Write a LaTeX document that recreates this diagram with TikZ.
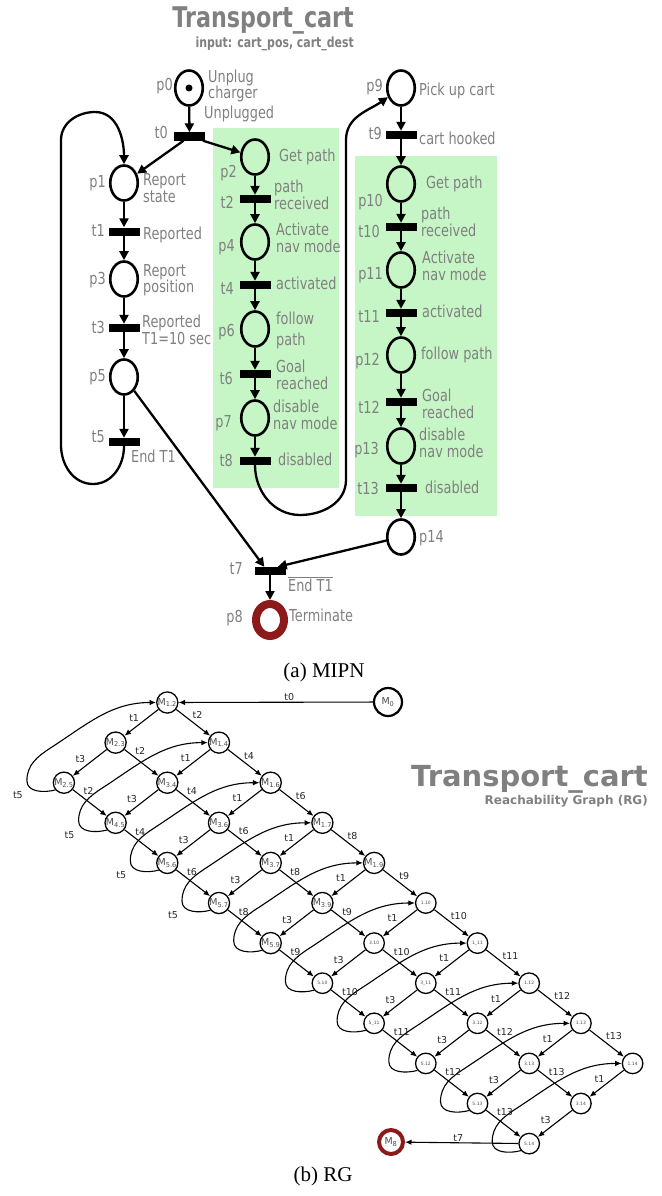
\documentclass[tikz,border=0pt]{standalone}
\usepackage{fontspec}
\usepackage{tikz}
\usetikzlibrary{arrows.meta,positioning,shapes.geometric,calc}
\newfontfamily\pnfont[FakeStretch=0.78]{DejaVu Sans}
\newfontfamily\rgfont{DejaVu Sans}
\newfontfamily\capfont{Liberation Serif}
\definecolor{pnGray}{HTML}{808080}
\definecolor{pnGreen}{HTML}{C6F5C6}
\definecolor{pnRed}{HTML}{8C1A1A}
\newcommand{\rgm}[1]{M\textsubscript{#1}}
\newcommand{\rgn}[1]{{\fontsize{4.5}{5}\selectfont #1}}
\tikzset{
  place/.style={draw, ellipse, line width=2.6pt, minimum width=27.5pt,
                minimum height=35pt, inner sep=0pt},
  trans/.style={fill=black, minimum width=31pt, minimum height=8pt, inner sep=0pt},
  parc/.style={-{Triangle[length=9pt,width=9pt]}, line width=2.3pt},
  lbl/.style={font=\pnfont\fontsize{16.5}{16.5}\selectfont, text=pnGray,
              inner sep=0pt, align=left},
  ttl/.style={font=\pnfont\bfseries\fontsize{28.5}{28.5}\selectfont, text=pnGray, inner sep=0pt},
  rgnode/.style={circle, draw, line width=1.3pt, minimum size=20.5pt, inner sep=0pt,
                 font=\rgfont\fontsize{9.5}{10}\selectfont, text=black!70},
  rgarr/.style={-{Latex[length=6.5pt,width=5.5pt]}, line width=1.1pt},
  rglbl/.style={font=\rgfont\fontsize{9.5}{10}\selectfont, inner sep=1.2pt, text=black!85},
  captxt/.style={font=\capfont\fontsize{21}{21}\selectfont, inner sep=0pt},
}
\begin{document}
\begin{tikzpicture}[x=1pt, y=1pt]
  \useasboundingbox (0,0) rectangle (661,-1196);
  % MIPN
  \fill[pnGreen] (213,-128) rectangle (339,-488);
  \fill[pnGreen] (355,-156) rectangle (497,-516);
  \node[ttl, anchor=base east] (title) at (354,-28) {Transport\_cart};
  \node[ttl, font=\pnfont\bfseries\fontsize{14}{14}\selectfont, anchor=base east]
    (inputs) at (354,-47.5) {input: cart\_pos, cart\_dest};
  \foreach \n/\x/\y in {p0/189/88, p1/124/183, p3/124/279, p5/124/377,
      p2/255/157, p4/255/242, p6/255/329, p7/255/418, p9/401/88, p10/401/184,
      p11/401/270, p12/401/355, p13/401/446, p14/401/537}
    \node[place] (\n) at (\x,-\y) {};
  \foreach \n/\x/\y in {t0/189.5/136.5, t1/124/231.5, t3/124/328, t5/124/442,
      t2/255/199, t4/255/285, t6/255/374, t8/255/461, t9/401/135, t10/401/227,
      t11/401/313, t12/401/402, t13/401/488, t7/270/571}
    \node[trans] (\n) at (\x,-\y) {};
  \node[place, draw=pnRed, line width=8pt, minimum width=28pt, minimum height=32pt]
    (p8) at (270,-620) {};
  \node[circle, fill, minimum size=7pt, inner sep=0pt] (tok) at (p0) {};
  \foreach \a/\b in {p0/t0, t0/p1, t0/p2, p1/t1, t1/p3, p3/t3, t3/p5, p5/t5,
      p2/t2, t2/p4, p4/t4, t4/p6, p6/t6, t6/p7, p7/t8, p9/t9, t9/p10, p10/t10,
      t10/p11, p11/t11, t11/p12, p12/t12, t12/p13, p13/t13, t13/p14, t7/p8}
    \draw[parc] (\a) -- (\b);
  \coordinate (c5b) at (93,-484);
  \coordinate (c5l) at (61,-445);
  \coordinate (c5t) at (61,-140);
  \coordinate (c5p) at (95,-112);
  \draw[parc] (t5.south) to[out=-90,in=0] (c5b) to[out=180,in=-90] (c5l) -- (c5t)
    to[out=90,in=180] (c5p) to[out=0,in=90] (p1.north);
  \coordinate (c8b) at (300,-515);
  \coordinate (c8r) at (346,-480);
  \coordinate (c8t) at (346,-140);
  \draw[parc] (t8.south) to[out=-90,in=180] (c8b) to[out=0,in=-90] (c8r) -- (c8t)
    to[out=90,in=215] (p9.215);
  \draw[parc] (p5) -- ([xshift=10pt]t7.north west);
  \draw[parc] (p14) -- ([xshift=-8pt]t7.north east);
  % names
  \foreach \n/\x/\y in {p0/173/86, t0/168/132, p1/106/183, t1/105/230, p3/106/280,
      t3/105/327, p5/106/377, t5/105/437, p2/237/173, t2/234/202, p4/235/247,
      t4/234/288, p6/235/332, t6/233/378, p7/232/423, t8/233/460, p9/383/87,
      t9/382/133, p10/383/202, t10/380/231, p11/383/275, t11/380/316,
      p12/380/361, t12/380/407, p13/379/450, t13/379/488, t7/243/568, p8/243/618}
    \node[lbl, anchor=east] (l\n) at (\x,-\y) {\n};
  % descriptions
  \node[lbl, anchor=west] (dp0) at (208,-86) {Unplug\\charger};
  \node[lbl, anchor=west] (dt0) at (204,-114) {Unplugged};
  \node[lbl, anchor=west] (dp1) at (143,-188) {Report\\state};
  \node[lbl, anchor=west] (dt1) at (143,-235) {Reported};
  \node[lbl, anchor=west] (dp3) at (143,-280) {Report\\position};
  \node[lbl, anchor=west] (dt3) at (142,-330) {Reported\\T1=10 sec};
  \node[lbl, anchor=west] (dt5) at (131,-456) {End T1};
  \node[lbl, anchor=west] (dp2) at (279,-157) {Get path};
  \node[lbl, anchor=west] (dt2) at (274,-195) {path\\received};
  \node[lbl, anchor=west] (dp4) at (276,-238) {Activate\\nav mode};
  \node[lbl, anchor=west] (dt4) at (276,-283) {activated};
  \node[lbl, anchor=west] (dp6) at (276,-330) {follow\\[4.5pt]path};
  \node[lbl, anchor=west] (dt6) at (276,-375) {Goal\\reached};
  \node[lbl, anchor=west] (dp7) at (273,-415) {disable\\nav mode};
  \node[lbl, anchor=west] (dt8) at (278,-459) {disabled};
  \node[lbl, anchor=west] (dp9) at (419,-91) {Pick up cart};
  \node[lbl, anchor=west] (dt9) at (419,-138) {cart hooked};
  \node[lbl, anchor=west] (dp10) at (426,-184) {Get path};
  \node[lbl, anchor=west] (dt10) at (421,-222) {path\\received};
  \node[lbl, anchor=west] (dp11) at (422,-266) {Activate\\nav mode};
  \node[lbl, anchor=west] (dt11) at (422,-311) {activated};
  \node[lbl, anchor=west] (dp12) at (421,-355) {follow path};
  \node[lbl, anchor=west] (dt12) at (422,-404) {Goal\\reached};
  \node[lbl, anchor=west] (dp13) at (419,-443) {disable\\nav mode};
  \node[lbl, anchor=west] (dt13) at (425,-487) {disabled};
  \node[lbl, anchor=west] (lp14) at (419,-538) {p14};
  \node[lbl, anchor=west] (dt7) at (288,-584) {$\overline{\mbox{End T1}}$};
  \node[lbl, anchor=west] (dp8) at (289,-615) {Terminate};
  \node[captxt, anchor=base] (capa) at (324,-677) {(a) MIPN};
  % RG
  \node[ttl, font=\rgfont\bfseries\fontsize{29}{29}\selectfont, anchor=base east]
    (rgtitle) at (648,-786) {Transport\_cart};
  \node[ttl, font=\rgfont\bfseries\fontsize{12}{12}\selectfont, anchor=base east]
    (rgsub) at (648,-804) {Reachability Graph (RG)};
  \begin{scope}[shift={(167.3,-702.5)}, x={(51.7pt,-40.1pt)}, y={(-51.7pt,-40.1pt)}]
    \foreach \u/\ra/\rb/\rc in {0/{\rgm{1.2}}/{\rgm{2.3}}/{\rgm{2.5}},
        1/{\rgm{1.4}}/{\rgm{3.4}}/{\rgm{4.5}}, 2/{\rgm{1.6}}/{\rgm{3.6}}/{\rgm{5.6}},
        3/{\rgm{1.7}}/{\rgm{3.7}}/{\rgm{5.7}}, 4/{\rgm{1.9}}/{\rgm{3.9}}/{\rgm{5.9}},
        5/{\rgn{1.10}}/{\rgn{3.10}}/{\rgn{5.10}}, 6/{\rgn{1\_11}}/{\rgn{3\_11}}/{\rgn{5\_11}},
        7/{\rgn{1.12}}/{\rgn{3.12}}/{\rgn{5.12}}, 8/{\rgn{1.13}}/{\rgn{3.13}}/{\rgn{5.13}},
        9/{\rgn{1.14}}/{\rgn{3.14}}/{\rgn{5.14}}}{
      \node[rgnode] (a\u-0) at (\u,0) {\ra};
      \node[rgnode] (a\u-1) at (\u,1) {\rb};
      \node[rgnode] (a\u-2) at (\u,2) {\rc};
    }
  \end{scope}
  \node[rgnode, line width=2.2pt, minimum size=28pt] (m0) at (388,-702) {\rgm{0}};
  \node[rgnode, draw=pnRed, line width=4pt, minimum size=24pt] (m8) at (391,-1142) {\rgm{8}};
  \draw[rgarr] (m0) -- node[rglbl, above, pos=0.43] (lt0r) {t0} (a0-0);
  \draw[rgarr] (a9-2) -- node[rglbl, above, pos=0.53] (lt7r) {t7} (m8);
  \foreach \u in {0,...,9}{
    \draw[rgarr] (a\u-0) -- node[rglbl, auto, swap, pos=0.52] (lv\u-0) {t1} (a\u-1);
    \draw[rgarr] (a\u-1) -- node[rglbl, auto, swap, pos=0.58] (lv\u-1) {t3} (a\u-2);
    \draw[rgarr] (a\u-2.220) to[out=195,in=-90] ($(a\u-2)+(-37pt,2pt)$)
      to[out=90,in=213] ($(a\u-2)+(-13pt,35pt)$) to[out=33,in=180] (a\u-0.west);
  }
  \foreach \u/\lab in {0/t2, 1/t4, 2/t6, 3/t8, 4/t9, 5/t10, 6/t11, 7/t12, 8/t13}{
    \pgfmathtruncatemacro\w{\u+1}
    \draw[rgarr] (a\u-0) -- node[rglbl, auto, pos=0.43] (lu\u-0) {\lab} (a\w-0);
    \draw[rgarr] (a\u-1) -- node[rglbl, auto, pos=0.27] (lu\u-1) {\lab} (a\w-1);
    \draw[rgarr] (a\u-2) -- node[rglbl, auto, pos=0.27] (lu\u-2) {\lab} (a\w-2);
  }
  \foreach \u in {0,...,3}
    \node[rglbl] (l5-\u) at ($(a\u-2)+(-46pt,-12pt)$) {t5};
  \node[captxt, anchor=base] (capb) at (323,-1181) {(b) RG};
\end{tikzpicture}
\end{document}
